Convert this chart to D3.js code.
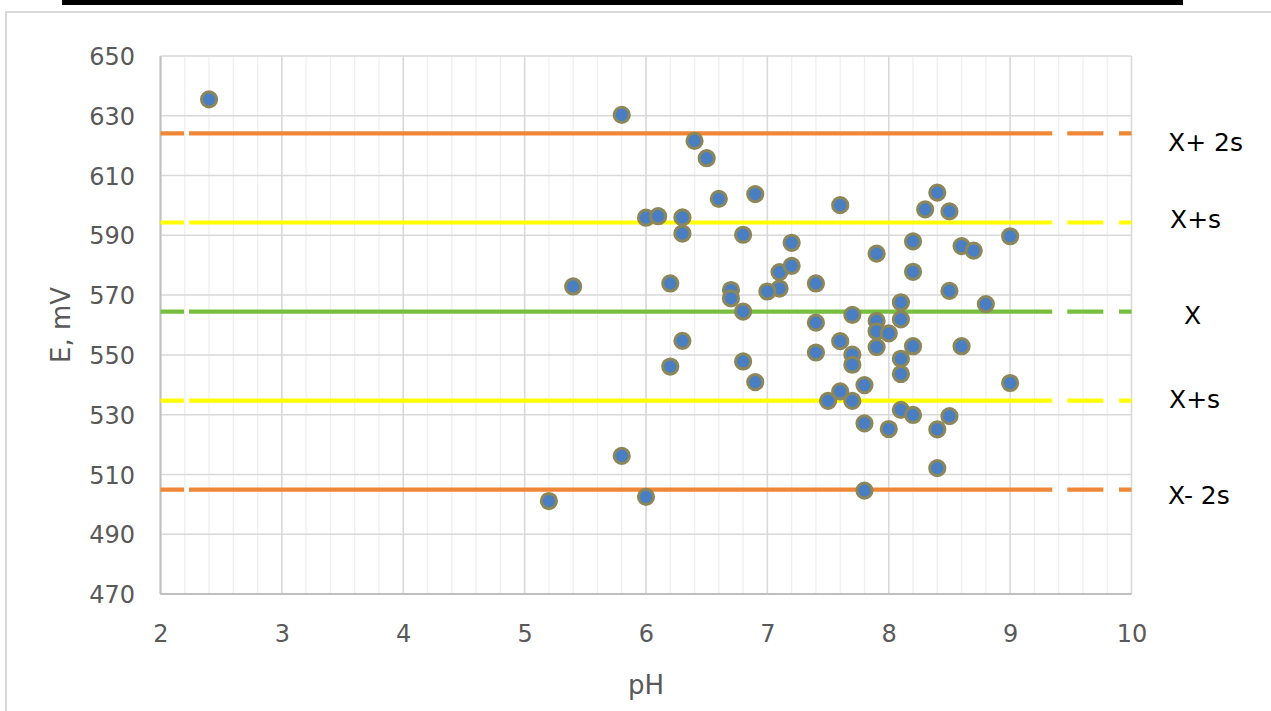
<!DOCTYPE html>
<html>
<head>
<meta charset="utf-8">
<script src="https://cdn.jsdelivr.net/npm/d3@7"></script>
<style>
  html, body { margin: 0; padding: 0; background: #fff; }
  svg { display: block; }
  .tick text { font-family: "DejaVu Sans", sans-serif; font-size: 24px; fill: #595959; }
</style>
</head>
<body>
<svg id="chart" width="1271" height="711"></svg>
<script>
// pH / potential measurements
const phValues = [
  2.4, 5.8, 6.4, 6.5, 6.6, 6.9, 6.0, 6.1, 6.3, 6.3,
  6.8, 7.6, 8.4, 8.3, 8.5, 8.2, 8.6, 8.7, 9.0, 7.2,
  7.9, 7.1, 7.2, 7.1, 7.0, 6.7, 6.7, 6.2, 5.4, 7.4,
  8.2, 8.5, 8.8, 8.1, 6.8, 7.7, 7.4, 7.9, 8.1, 7.9,
  8.0, 7.9, 6.3, 7.6, 7.7, 7.7, 7.4, 8.2, 8.6, 8.1,
  8.1, 6.2, 6.8, 6.9, 7.8, 7.6, 7.5, 7.7, 9.0, 8.1,
  8.2, 8.5, 7.8, 8.0, 8.4, 8.4, 5.8, 7.8, 6.0, 5.2
];
const eValues = [
  635.5, 630.3, 621.6, 615.8, 602.2, 603.8, 595.9, 596.4, 596.0, 590.6,
  590.2, 600.1, 604.3, 598.7, 598.0, 588.0, 586.4, 584.9, 589.7, 587.5,
  583.9, 577.7, 579.8, 572.2, 571.2, 571.7, 568.9, 573.9, 572.9, 573.9,
  577.8, 571.4, 567.0, 567.6, 564.5, 563.4, 560.8, 561.4, 561.9, 557.9,
  557.2, 552.6, 554.7, 554.6, 550.1, 546.7, 550.8, 552.9, 552.9, 548.7,
  543.6, 546.1, 547.8, 540.9, 539.9, 537.8, 534.6, 534.6, 540.6, 531.6,
  529.9, 529.5, 527.1, 525.2, 525.1, 512.1, 516.2, 504.6, 502.5, 501.1
];

// Control limits: mean and ±s, ±2s
const limitValues = [624.1, 594.3, 564.5, 534.7, 504.9];
const limitLabels = ["X+ 2s", "X+s", "X", "X+s", "X- 2s"];
const limitColors = ["#f08736", "#ffff00", "#78bf3f", "#ffff00", "#f08736"];

// Axis ticks
const xTicks = [2, 3, 4, 5, 6, 7, 8, 9, 10];
const yTicks = [470, 490, 510, 530, 550, 570, 590, 610, 630, 650];

const svg = d3.select("#chart");

const x = d3.scaleLinear().domain([2, 10]).range([160.5, 1131.5]);
const y = d3.scaleLinear().domain([470, 650]).range([594, 56]);

// Decorative bar at the top and outer frame
svg.append("rect").attr("x", 62).attr("y", 0).attr("width", 1121).attr("height", 5).attr("fill", "#000");
svg.append("rect").attr("x", 6).attr("y", 12).attr("width", 1280).attr("height", 720)
  .attr("fill", "none").attr("stroke", "#d9d9d9").attr("stroke-width", 2);

// Gridlines
const grid = svg.append("g");
grid.selectAll("line.minor")
  .data(d3.range(2, 10.001, 0.2))
  .join("line")
  .attr("x1", d => x(d)).attr("x2", d => x(d))
  .attr("y1", y(470)).attr("y2", y(650))
  .attr("stroke", "#efefef").attr("stroke-width", 1.3);
grid.selectAll("line.vmajor")
  .data(xTicks)
  .join("line")
  .attr("x1", d => x(d)).attr("x2", d => x(d))
  .attr("y1", y(470)).attr("y2", y(650))
  .attr("stroke", "#d9d9d9").attr("stroke-width", 1.5);
grid.selectAll("line.hmajor")
  .data(yTicks)
  .join("line")
  .attr("x1", x(2)).attr("x2", x(10))
  .attr("y1", d => y(d)).attr("y2", d => y(d))
  .attr("stroke", "#d9d9d9").attr("stroke-width", 1.5);

// Axis lines (left / bottom)
svg.append("line").attr("x1", x(2)).attr("x2", x(2)).attr("y1", y(470)).attr("y2", y(650))
  .attr("stroke", "#bfbfbf").attr("stroke-width", 2);
svg.append("line").attr("x1", x(2)).attr("x2", x(10)).attr("y1", y(470)).attr("y2", y(470))
  .attr("stroke", "#bfbfbf").attr("stroke-width", 2);

// Axis tick labels
const xAxis = d3.axisBottom(x).tickValues(xTicks).tickSize(0).tickPadding(0).tickFormat(d3.format("d"));
const gx = svg.append("g").attr("transform", `translate(0, 625)`).call(xAxis);
gx.select(".domain").remove();
gx.selectAll("text").attr("dy", "0.71em");

const yAxis = d3.axisLeft(y).tickValues(yTicks).tickSize(0).tickPadding(0).tickFormat(d3.format("d"));
const gy = svg.append("g").attr("transform", `translate(135, 0)`).call(yAxis);
gy.select(".domain").remove();
gy.selectAll("text").attr("dy", "0.36em");

// Axis titles
svg.append("text")
  .attr("x", x(6)).attr("y", 694)
  .attr("text-anchor", "middle")
  .attr("font-family", "DejaVu Sans, sans-serif").attr("font-size", 26)
  .attr("fill", "#595959")
  .text("pH");
svg.append("text")
  .attr("transform", `translate(70, 325) rotate(-90)`)
  .attr("text-anchor", "middle")
  .attr("font-family", "DejaVu Sans, sans-serif").attr("font-size", 26)
  .attr("fill", "#595959")
  .text("E, mV");

// Control lines: dashed ends, solid middle
const breaks = [2, 2.194, 2.235, 9.347, 9.471, 9.768, 9.897, 10];
const dashArray = d3.pairs(breaks).map(([a, b]) => x(b) - x(a)).join(",");
svg.append("g").selectAll("line")
  .data(limitValues)
  .join("line")
  .attr("x1", x(2)).attr("x2", x(10))
  .attr("y1", d => y(d)).attr("y2", d => y(d))
  .attr("stroke", (d, i) => limitColors[i])
  .attr("stroke-width", 4.2)
  .attr("stroke-dasharray", dashArray);

// Control-line labels
const labelNudge = [[1168, 9], [1170, -3], [1184, 3], [1169, -2], [1168, 5]];
svg.append("g").selectAll("text")
  .data(limitValues)
  .join("text")
  .attr("x", (d, i) => labelNudge[i][0])
  .attr("y", (d, i) => y(d) + labelNudge[i][1])
  .attr("dy", "0.36em")
  .attr("font-family", "DejaVu Sans, sans-serif").attr("font-size", 25)
  .attr("fill", "#000")
  .text((d, i) => limitLabels[i]);

// Measurement points
const points = phValues.map((p, i) => ({ ph: p, e: eValues[i] }));
svg.append("g").selectAll("circle")
  .data(points)
  .join("circle")
  .attr("cx", d => x(d.ph))
  .attr("cy", d => y(d.e))
  .attr("r", 7.6)
  .attr("fill", "#4a7ec3")
  .attr("stroke", "#8c875a")
  .attr("stroke-width", 3);
</script>
</body>
</html>
